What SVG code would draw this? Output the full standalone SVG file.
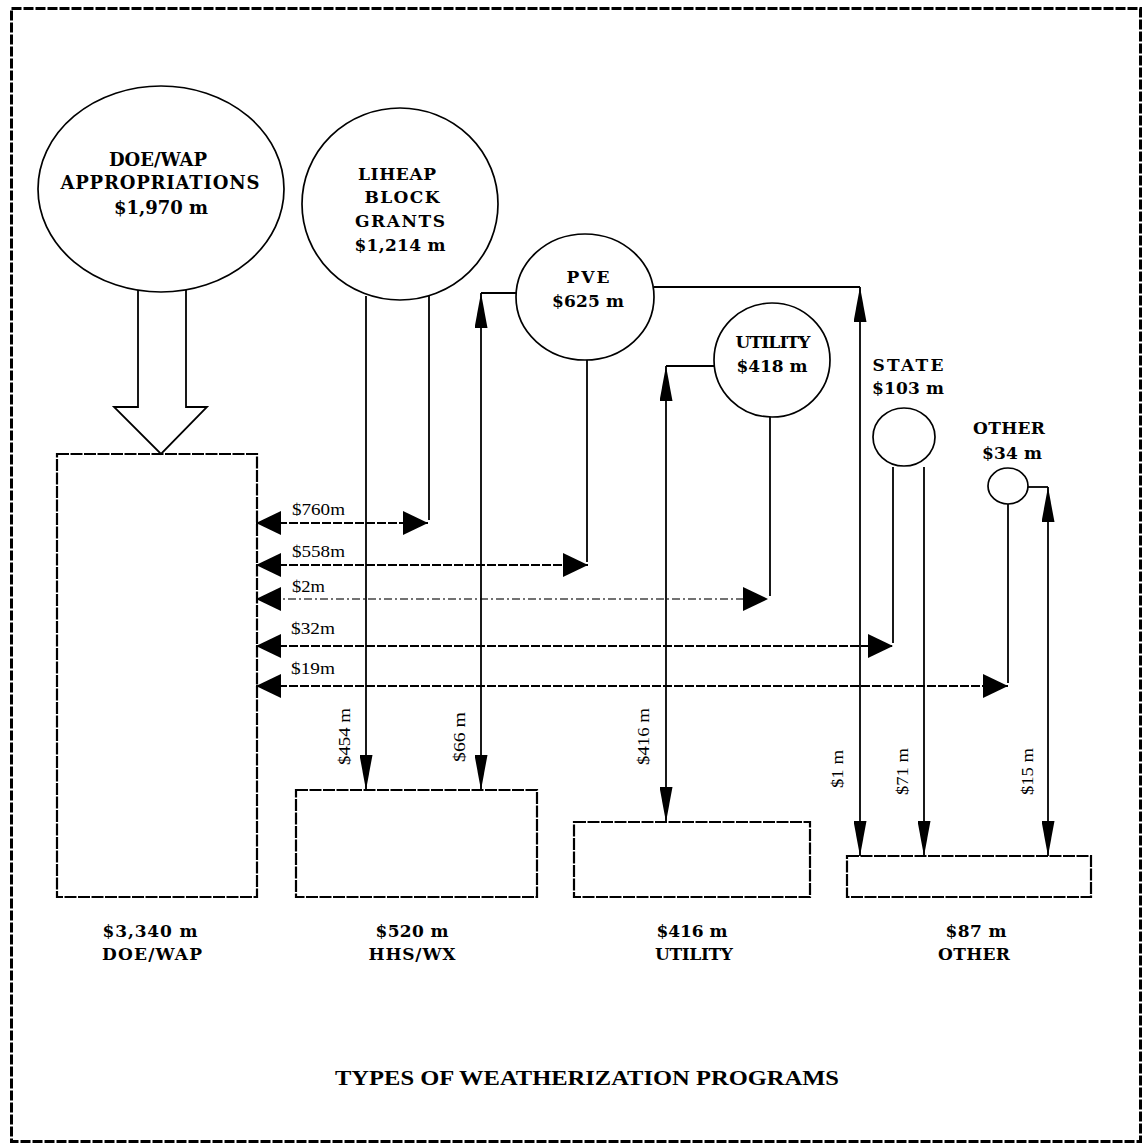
<svg xmlns="http://www.w3.org/2000/svg" width="1144" height="1143" viewBox="0 0 1144 1143">
<style>
.lbl{font-family:"DejaVu Serif","Liberation Serif",serif;font-weight:bold;font-size:17px;text-anchor:middle;fill:#000}
.big{font-size:18px}
.flow{font-family:"Liberation Serif",serif;font-size:17px;fill:#000}
.title{font-family:"Liberation Serif",serif;font-weight:bold;font-size:22px;fill:#000}
.node{fill:#fff;stroke:#000;stroke-width:1.7}
.box{fill:none;stroke:#000;stroke-width:2.2;stroke-dasharray:12 1.5}
.ln{fill:none;stroke:#000;stroke-width:1.8}
.h{marker-start:url(#wide);marker-end:url(#wide);stroke-dasharray:9 2}
.dd{stroke:#444;stroke-width:1.4;stroke-dasharray:8 3 2 3}
.v2{marker-start:url(#narrow);marker-end:url(#narrow)}
.v1{marker-end:url(#narrow)}
</style>
<defs>
<marker id="wide" markerUnits="userSpaceOnUse" markerWidth="25" markerHeight="24" refX="25" refY="12" orient="auto-start-reverse" viewBox="0 0 25 24">
<path d="M0,0 L25,12 L0,24 z" fill="#000"/>
</marker>
<marker id="narrow" markerUnits="userSpaceOnUse" markerWidth="35" markerHeight="13" refX="35" refY="6.5" orient="auto-start-reverse" viewBox="0 0 35 13">
<path d="M0,0 L35,6.5 L0,13 z" fill="#000"/>
</marker>
</defs>
<rect x="11.5" y="8.5" width="1129" height="1133" fill="#fff" stroke="#000" stroke-width="3" stroke-dasharray="10 2"/>

<g id="connectors">
<polyline class="ln" points="138,290 138,407 114,407 161,454 207,407 186,407 186,290" fill="#fff"/>
<line class="ln" x1="429" y1="296" x2="429" y2="520"/>
<line class="ln" x1="587" y1="360" x2="587" y2="562"/>
<line class="ln" x1="770" y1="417" x2="770" y2="596"/>
<line class="ln" x1="893" y1="467" x2="893" y2="643"/>
<line class="ln" x1="1008" y1="504" x2="1008" y2="683"/>
<line class="ln h" x1="256" y1="523" x2="428" y2="523"/>
<line class="ln h" x1="256" y1="565" x2="588" y2="565"/>
<line class="ln h dd" x1="256" y1="599" x2="768" y2="599"/>
<line class="ln h" x1="256" y1="646" x2="893" y2="646"/>
<line class="ln h" x1="256" y1="686" x2="1008" y2="686"/>
<line class="ln v1" x1="366" y1="296" x2="366" y2="790"/>
<line class="ln" x1="516" y1="293" x2="481" y2="293"/>
<line class="ln v2" x1="481" y1="293" x2="481" y2="790"/>
<line class="ln" x1="714" y1="366" x2="666" y2="366"/>
<line class="ln v2" x1="666" y1="366" x2="666" y2="822"/>
<line class="ln" x1="654" y1="287" x2="860" y2="287"/>
<line class="ln v2" x1="860" y1="287" x2="860" y2="856"/>
<line class="ln v1" x1="924" y1="467" x2="924" y2="856"/>
<line class="ln" x1="1028" y1="487" x2="1048" y2="487"/>
<line class="ln v2" x1="1048" y1="487" x2="1048" y2="856"/>
<text class="flow" x="292" y="515" textLength="53" lengthAdjust="spacingAndGlyphs">$760m</text>
<text class="flow" x="292" y="557" textLength="53" lengthAdjust="spacingAndGlyphs">$558m</text>
<text class="flow" x="292" y="592" textLength="33" lengthAdjust="spacingAndGlyphs">$2m</text>
<text class="flow" x="291" y="634" textLength="44" lengthAdjust="spacingAndGlyphs">$32m</text>
<text class="flow" x="291" y="674" textLength="44" lengthAdjust="spacingAndGlyphs">$19m</text>
<text class="flow" transform="translate(350,765) rotate(-90)" textLength="57" lengthAdjust="spacingAndGlyphs">$454 m</text>
<text class="flow" transform="translate(465,762) rotate(-90)" textLength="50" lengthAdjust="spacingAndGlyphs">$66 m</text>
<text class="flow" transform="translate(649,765) rotate(-90)" textLength="57" lengthAdjust="spacingAndGlyphs">$416 m</text>
<text class="flow" transform="translate(843,788) rotate(-90)" textLength="38" lengthAdjust="spacingAndGlyphs">$1 m</text>
<text class="flow" transform="translate(908,795) rotate(-90)" textLength="47" lengthAdjust="spacingAndGlyphs">$71 m</text>
<text class="flow" transform="translate(1033,795) rotate(-90)" textLength="47" lengthAdjust="spacingAndGlyphs">$15 m</text>
</g>

<g id="doe-wap-appropriations">
<ellipse class="node" cx="161" cy="189" rx="123" ry="103"/>
<text class="lbl big" x="158" y="166" textLength="98">DOE/WAP</text>
<text class="lbl big" x="160" y="189" textLength="199">APPROPRIATIONS</text>
<text class="lbl big" x="161" y="214" textLength="94">$1,970 m</text>
</g>
<g id="liheap">
<ellipse class="node" cx="400" cy="204" rx="98" ry="96"/>
<text class="lbl" x="397" y="180" textLength="78">LIHEAP</text>
<text class="lbl" x="402" y="203" textLength="75">BLOCK</text>
<text class="lbl" x="400" y="227" textLength="90">GRANTS</text>
<text class="lbl" x="400" y="251" textLength="91">$1,214 m</text>
</g>
<g id="pve">
<ellipse class="node" cx="585" cy="297" rx="69" ry="63"/>
<text class="lbl" x="588" y="283" textLength="43">PVE</text>
<text class="lbl" x="588" y="307" textLength="72">$625 m</text>
</g>
<g id="utility">
<ellipse class="node" cx="772" cy="360" rx="58" ry="57"/>
<text class="lbl" x="773" y="348" textLength="75">UTILITY</text>
<text class="lbl" x="772" y="372" textLength="71">$418 m</text>
</g>
<g id="state">
<text class="lbl" x="908" y="371" textLength="71">STATE</text>
<text class="lbl" x="908" y="394" textLength="72">$103 m</text>
<ellipse class="node" cx="904" cy="437" rx="31" ry="29"/>
</g>
<g id="other-source">
<text class="lbl" x="1009" y="434" textLength="72">OTHER</text>
<text class="lbl" x="1012" y="459" textLength="60">$34 m</text>
<ellipse class="node" cx="1008" cy="486" rx="20" ry="18"/>
</g>

<g id="doe-wap-program">
<rect class="box" x="57" y="454" width="200" height="443"/>
<text class="lbl" x="150" y="937" textLength="95">$3,340 m</text>
<text class="lbl" x="152" y="960" textLength="100">DOE/WAP</text>
</g>
<g id="hhs-wx-program">
<rect class="box" x="296" y="790" width="241" height="107"/>
<text class="lbl" x="412" y="937" textLength="73">$520 m</text>
<text class="lbl" x="412" y="960" textLength="87">HHS/WX</text>
</g>
<g id="utility-program">
<rect class="box" x="574" y="822" width="236" height="75"/>
<text class="lbl" x="692" y="937" textLength="71">$416 m</text>
<text class="lbl" x="694" y="960" textLength="78">UTILITY</text>
</g>
<g id="other-program">
<rect class="box" x="847" y="856" width="244" height="41"/>
<text class="lbl" x="976" y="937" textLength="61">$87 m</text>
<text class="lbl" x="974" y="960" textLength="72">OTHER</text>
</g>

<text class="title" x="335" y="1085" textLength="504" lengthAdjust="spacingAndGlyphs">TYPES OF WEATHERIZATION PROGRAMS</text>
</svg>
